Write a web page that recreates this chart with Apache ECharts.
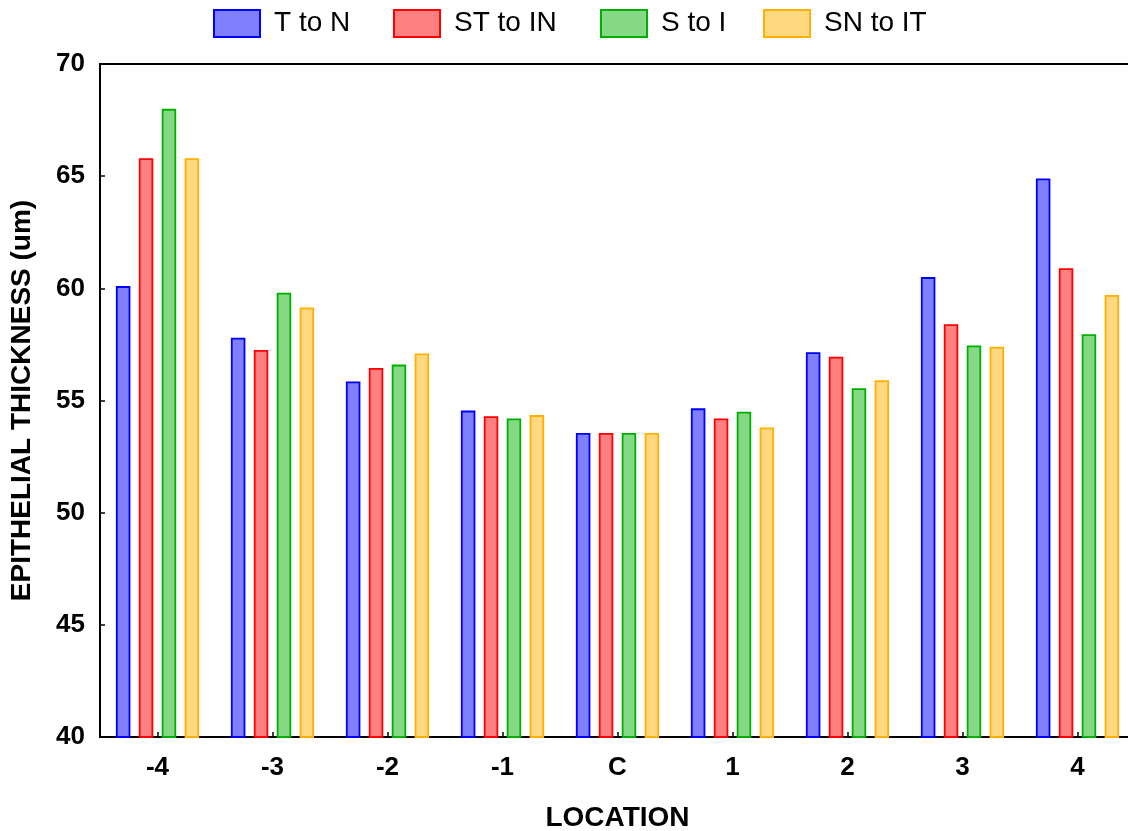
<!DOCTYPE html>
<html>
<head>
<meta charset="utf-8">
<script src="https://cdn.jsdelivr.net/npm/echarts@6/dist/echarts.min.js"></script>
<style>
  html, body { margin: 0; padding: 0; background: #fff; }
  #chart { width: 1128px; height: 831px; }
</style>
</head>
<body>
<div id="chart"></div>
<script>
// Location along the meridian, from -4 through centre (C) to 4
const categories = ['-4', '-3', '-2', '-1', 'C', '1', '2', '3', '4'];

// Epithelial thickness (um) per meridian
const tToN   = [60.1, 57.8, 55.85, 54.55, 53.55, 54.65, 57.15, 60.5, 64.9];
const stToIn = [65.8, 57.25, 56.45, 54.3, 53.55, 54.2, 56.95, 58.4, 60.9];
const sToI   = [68.0, 59.8, 56.6, 54.2, 53.55, 54.5, 55.55, 57.45, 57.95];
const snToIt = [65.8, 59.15, 57.1, 54.35, 53.55, 53.8, 55.9, 57.4, 59.7];

const seriesNames = ['T to N', 'ST to IN', 'S to I', 'SN to IT'];
const seriesData = [tToN, stToIn, sToI, snToIt];
const fills = ['#8080ff', '#ff8080', '#85d985', '#ffd880'];
const borders = ['#0000ff', '#ff0000', '#00b000', '#ffb000'];
const legendLeft = [213, 393, 600, 763];

const FONT = '"Liberation Sans", Arial, Helvetica, sans-serif';

const chart = echarts.init(document.getElementById('chart'), null, { renderer: 'canvas' });

const option = {
  backgroundColor: '#ffffff',
  animation: false,
  legend: seriesNames.map((name, i) => ({
    data: [name],
    left: legendLeft[i],
    top: 9,
    padding: 0,
    icon: 'rect',
    itemWidth: 46,
    itemHeight: 27,
    textStyle: {
      fontFamily: FONT,
      fontSize: 28,
      color: '#000',
      padding: [2, 0, 0, 9]
    }
  })),
  grid: {
    left: 100,
    top: 64,
    width: 1035,
    bottom: 94,
    show: true,
    borderColor: '#000',
    borderWidth: 2,
    containLabel: false,
    outerBoundsMode: 'none'
  },
  xAxis: {
    type: 'category',
    data: categories,
    name: 'LOCATION',
    nameLocation: 'middle',
    nameGap: 67,
    nameTextStyle: { fontFamily: FONT, fontSize: 28, fontWeight: 'bold', color: '#000' },
    axisLine: { show: true, lineStyle: { color: '#000', width: 2 } },
    axisTick: { show: true, inside: true, alignWithLabel: true, length: 5, lineStyle: { color: '#000', width: 1.5 } },
    axisLabel: { fontFamily: FONT, fontSize: 26, fontWeight: 'bold', color: '#000', margin: 18 },
    splitLine: { show: false }
  },
  yAxis: {
    type: 'value',
    min: 40,
    max: 70,
    interval: 5,
    name: 'EPITHELIAL THICKNESS (um)',
    nameLocation: 'middle',
    nameGap: 64,
    nameTextStyle: { fontFamily: FONT, fontSize: 28, fontWeight: 'bold', color: '#000' },
    axisLine: { show: true, lineStyle: { color: '#000', width: 2 } },
    axisTick: { show: true, inside: true, length: 5, lineStyle: { color: '#000', width: 1.5 } },
    axisLabel: { fontFamily: FONT, fontSize: 26, fontWeight: 'bold', color: '#000', margin: 15 },
    splitLine: { show: false }
  },
  series: seriesNames.map((name, i) => ({
    name: name,
    type: 'bar',
    data: seriesData[i],
    barWidth: 14.5,
    barGap: '58%',
    itemStyle: {
      color: fills[i],
      borderColor: borders[i],
      borderWidth: 1.8
    }
  }))
};

chart.setOption(option);
</script>
</body>
</html>
